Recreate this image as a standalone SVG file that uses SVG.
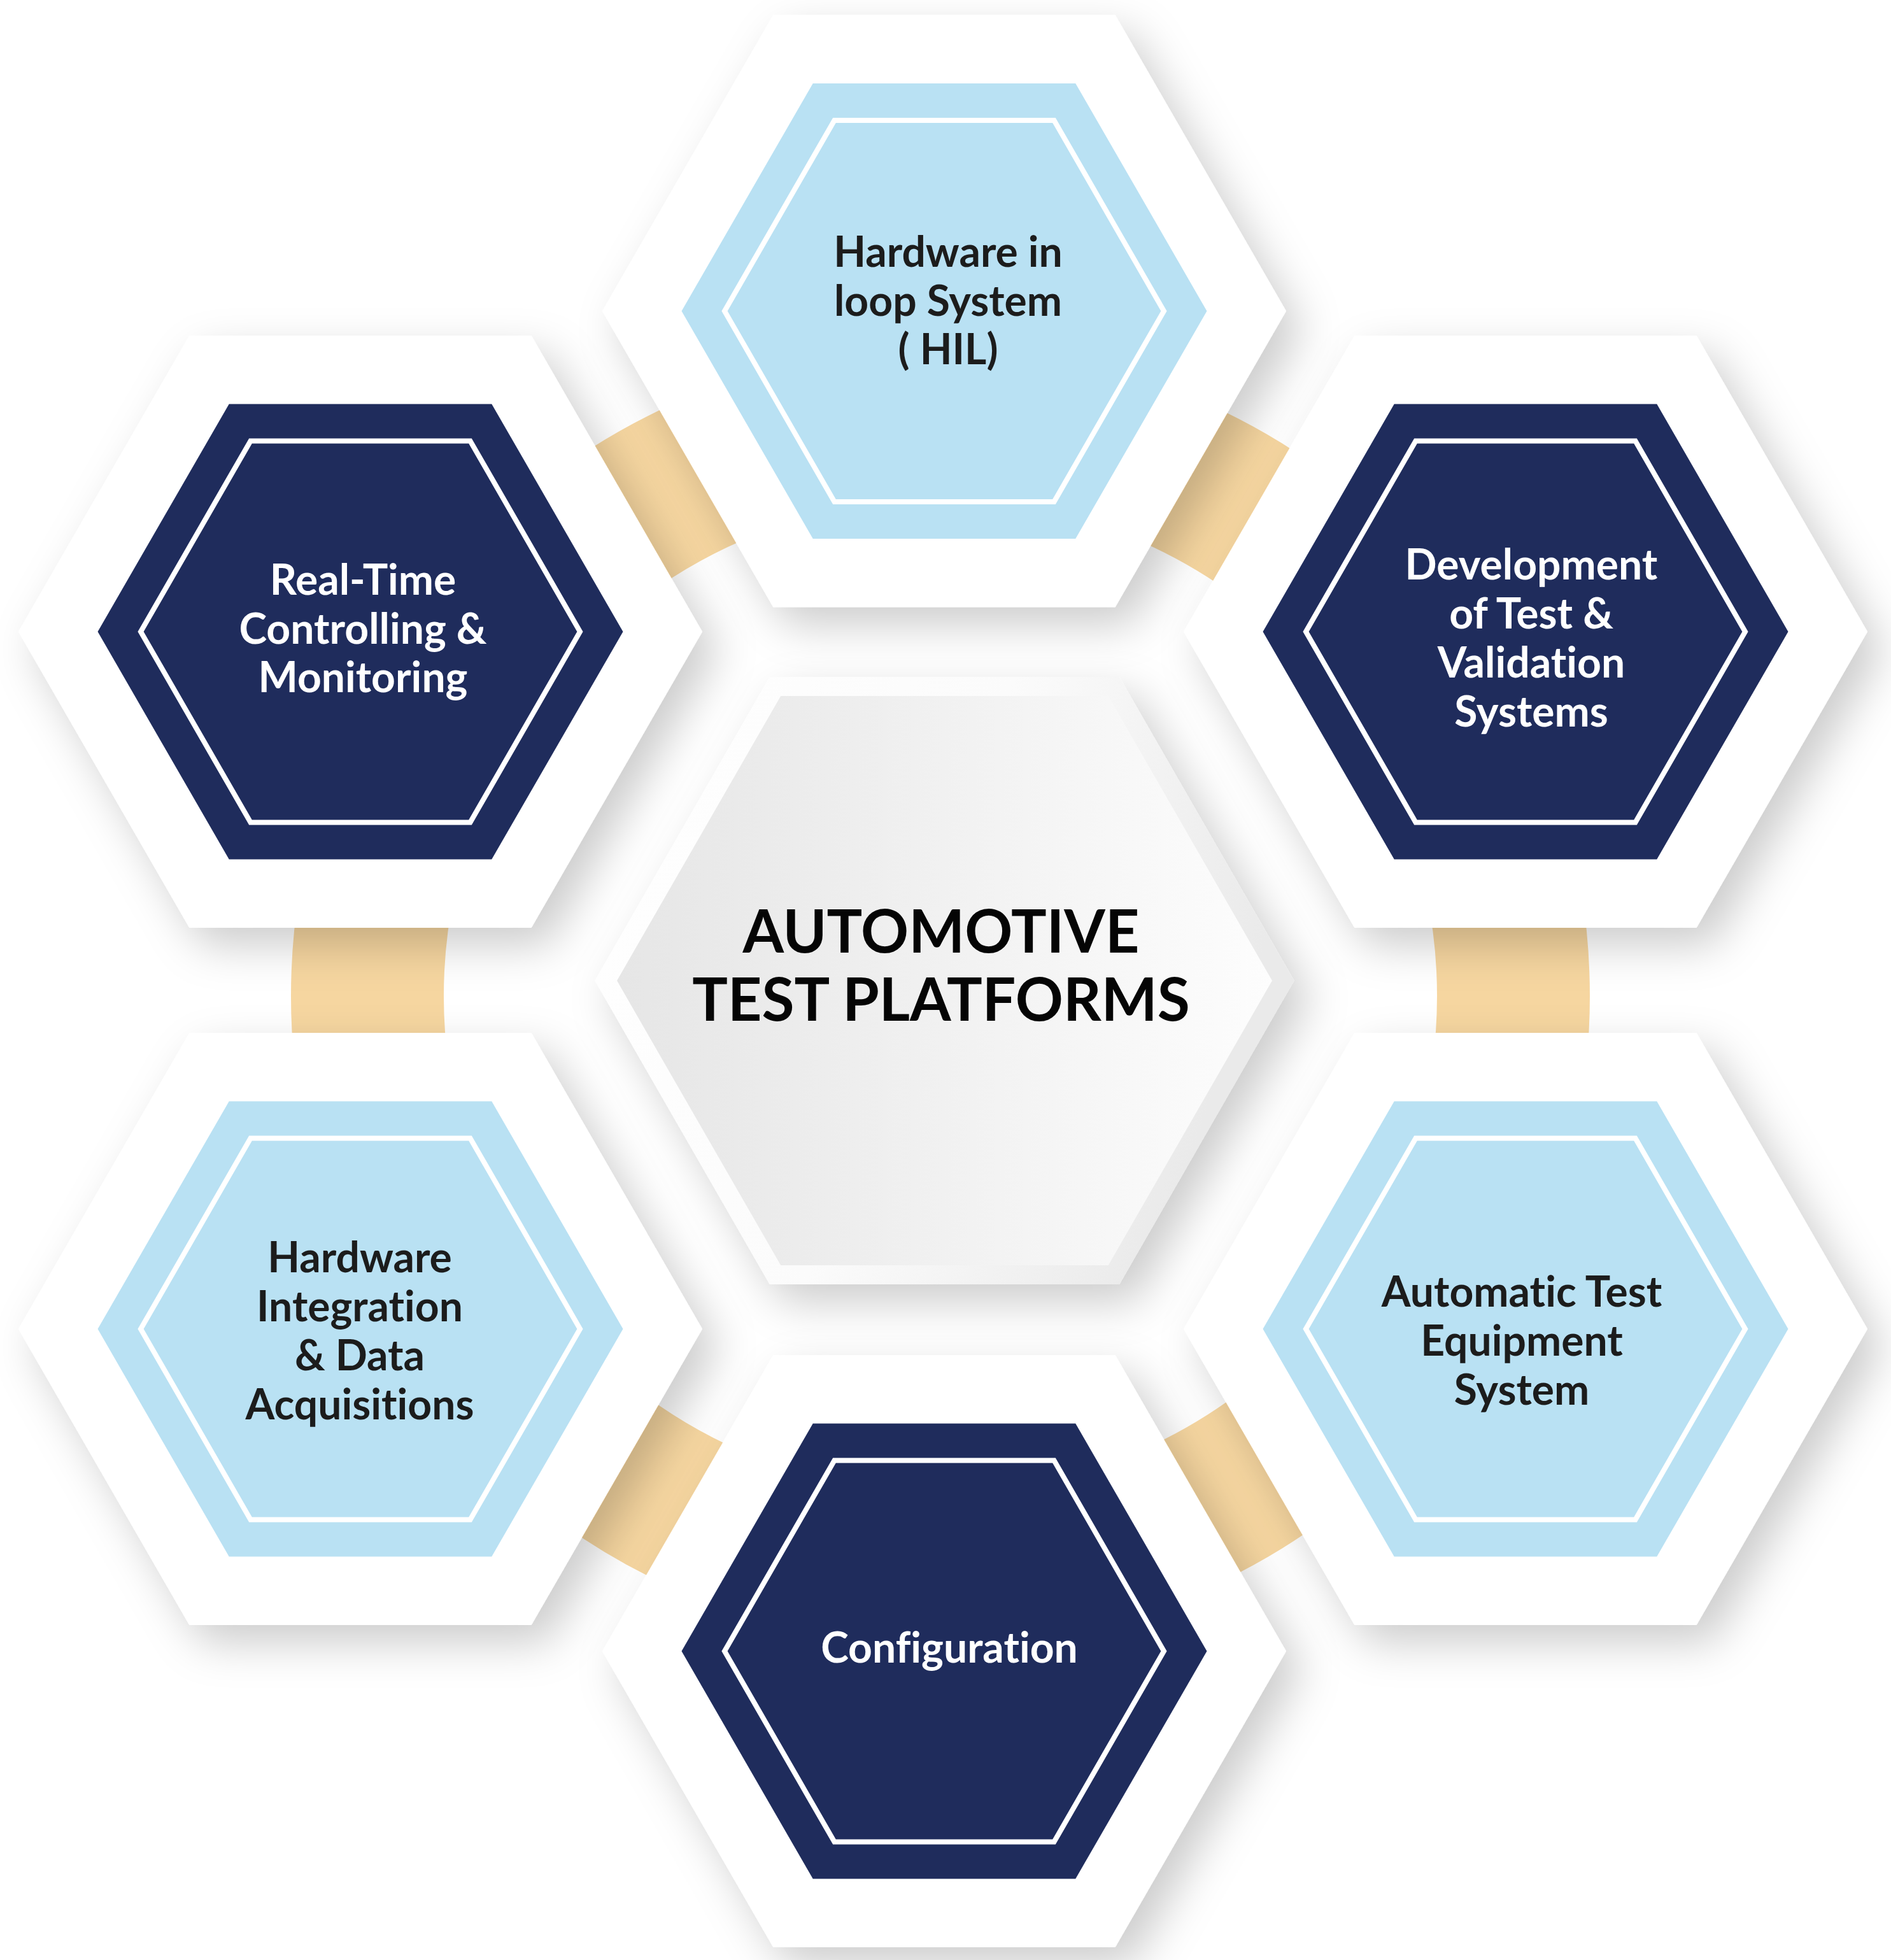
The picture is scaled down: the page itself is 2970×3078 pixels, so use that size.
<svg xmlns="http://www.w3.org/2000/svg" width="2970" height="3078" viewBox="0 0 2970 3078">
<style>
.lbl{font-family:"Lato","Liberation Sans",sans-serif;font-weight:700;font-size:66px;text-anchor:middle;font-variant-ligatures:none}
.dark{fill:#1c1c1c}
.light{fill:#ffffff}
.title{font-family:"Lato","Liberation Sans",sans-serif;font-weight:700;font-size:93px;text-anchor:middle;fill:#050505;font-variant-ligatures:none}
.blue{fill:#b9e1f3}
.navy{fill:#1f2c5c}
.rim{fill:#ffffff}
.ol{fill:none;stroke:#ffffff;stroke-width:8}
</style>
<defs>
<filter id="sh" x="-25%" y="-25%" width="150%" height="150%">
<feDropShadow dx="24" dy="28" stdDeviation="34" flood-color="#000000" flood-opacity="0.2"/>
</filter>
<polygon id="hexW" points="-537,0 -268.5,-465 268.5,-465 537,0 268.5,465 -268.5,465"/>
<polygon id="hexC" points="-412.5,0 -206.25,-357.5 206.25,-357.5 412.5,0 206.25,357.5 -206.25,357.5"/>
<polygon id="hexI" points="-345,0 -172.5,-299.5 172.5,-299.5 345,0 172.5,299.5 -172.5,299.5"/>
<linearGradient id="cOuter" x1="0" y1="0" x2="1" y2="0.3">
<stop offset="0" stop-color="#ffffff"/>
<stop offset="0.55" stop-color="#fbfbfb"/>
<stop offset="1" stop-color="#eaeaea"/>
</linearGradient>
<linearGradient id="cInner" x1="0" y1="0" x2="1" y2="0">
<stop offset="0" stop-color="#e6e6e6"/>
<stop offset="0.5" stop-color="#f1f1f1"/>
<stop offset="1" stop-color="#fdfdfd"/>
</linearGradient>
</defs>
<rect x="0" y="0" width="2970" height="3078" fill="#ffffff"/>

<g id="connectors">
<circle cx="1477" cy="1564" r="900" fill="none" stroke="#f6d6a0" stroke-width="240"/>
</g>

<g id="node-center">
<polygon points="934.5,1540 1209,1063 1758,1063 2032.5,1540 1758,2017 1209,2017" fill="url(#cOuter)" filter="url(#sh)"/>
<polygon points="969,1540 1226.25,1093 1740.75,1093 1998,1540 1740.75,1987 1226.25,1987" fill="url(#cInner)"/>
<text class="title" x="1478" y="1496">AUTOMOTIVE</text>
<text class="title" x="1478" y="1603">TEST PLATFORMS</text>
</g>

<g id="node-hil" transform="translate(1483,488.5)">
<use href="#hexW" class="rim" filter="url(#sh)"/>
<use href="#hexC" class="blue"/>
<use href="#hexI" class="ol"/>
<text class="lbl dark" x="6" y="-69.5">Hardware in</text>
<text class="lbl dark" x="6" y="7">loop System</text>
<text class="lbl dark" x="6" y="83.5">( HIL)</text>
</g>

<g id="node-devtest" transform="translate(2396,992)">
<use href="#hexW" class="rim" filter="url(#sh)"/>
<use href="#hexC" class="navy"/>
<use href="#hexI" class="ol"/>
<text class="lbl light" x="9" y="-82.5">Development</text>
<text class="lbl light" x="9" y="-5.3">of Test &amp;</text>
<text class="lbl light" x="9" y="71.8">Validation</text>
<text class="lbl light" x="9" y="149">Systems</text>
</g>

<g id="node-ate" transform="translate(2396,2087)">
<use href="#hexW" class="rim" filter="url(#sh)"/>
<use href="#hexC" class="blue"/>
<use href="#hexI" class="ol"/>
<text class="lbl dark" x="-6" y="-35.4">Automatic Test</text>
<text class="lbl dark" x="-6" y="41.7">Equipment</text>
<text class="lbl dark" x="-6" y="119">System</text>
</g>

<g id="node-config" transform="translate(1483,2593)">
<use href="#hexW" class="rim" filter="url(#sh)"/>
<use href="#hexC" class="navy"/>
<use href="#hexI" class="ol"/>
<text class="lbl light" x="8" y="17.5">Configuration</text>
</g>

<g id="node-hwint" transform="translate(566,2087)">
<use href="#hexW" class="rim" filter="url(#sh)"/>
<use href="#hexC" class="blue"/>
<use href="#hexI" class="ol"/>
<text class="lbl dark" x="-1" y="-89.4">Hardware</text>
<text class="lbl dark" x="-1" y="-12.3">Integration</text>
<text class="lbl dark" x="-1" y="65">&amp; Data</text>
<text class="lbl dark" x="-1" y="142">Acquisitions</text>
</g>

<g id="node-realtime" transform="translate(566,992)">
<use href="#hexW" class="rim" filter="url(#sh)"/>
<use href="#hexC" class="navy"/>
<use href="#hexI" class="ol"/>
<text class="lbl light" x="4" y="-58">Real-Time</text>
<text class="lbl light" x="4" y="19">Controlling &amp;</text>
<text class="lbl light" x="4" y="95">Monitoring</text>
</g>
</svg>
